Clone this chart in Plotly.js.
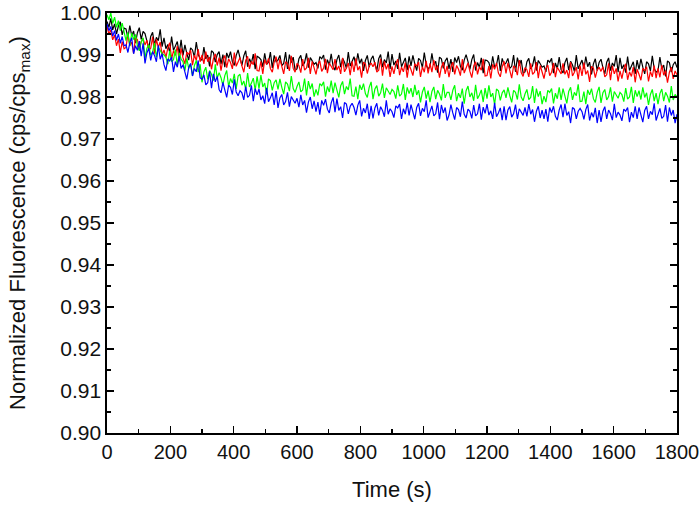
<!DOCTYPE html>
<html>
<head>
<meta charset="utf-8">
<script src="https://cdn.plot.ly/plotly-3.0.1.min.js"></script>
<style>html,body{margin:0;padding:0;background:#fff;}#chart{width:700px;height:509px;}</style>
</head>
<body>
<div id="chart"></div>
<script>
// Sampling of the traces (time in s): first sample and spacing
const T0 = 0;
const DT = 6;

const black = [
0.9980,0.9966,0.9987,0.9960,0.9974,0.9950,0.9969,0.9979,0.9948,0.9964,
0.9962,0.9941,0.9970,0.9946,0.9957,0.9928,0.9953,0.9965,0.9937,0.9956,
0.9951,0.9931,0.9916,0.9944,0.9954,0.9924,0.9942,0.9934,0.9961,0.9920,
0.9941,0.9915,0.9925,0.9906,0.9944,0.9911,0.9920,0.9932,0.9903,0.9936,
0.9899,0.9924,0.9904,0.9888,0.9917,0.9912,0.9895,0.9931,0.9901,0.9892,
0.9887,0.9919,0.9891,0.9900,0.9873,0.9910,0.9906,0.9883,0.9901,0.9908,
0.9878,0.9901,0.9871,0.9905,0.9893,0.9908,0.9884,0.9875,0.9899,0.9912,
0.9893,0.9875,0.9898,0.9910,0.9872,0.9891,0.9880,0.9902,0.9866,0.9897,
0.9894,0.9889,0.9872,0.9904,0.9878,0.9883,0.9907,0.9869,0.9899,0.9884,
0.9888,0.9899,0.9875,0.9880,0.9907,0.9867,0.9901,0.9882,0.9895,0.9864,
0.9867,0.9891,0.9899,0.9874,0.9882,0.9904,0.9870,0.9894,0.9886,0.9878,
0.9882,0.9868,0.9896,0.9891,0.9900,0.9865,0.9889,0.9876,0.9903,0.9873,
0.9864,0.9889,0.9900,0.9871,0.9892,0.9883,0.9868,0.9907,0.9874,0.9887,
0.9896,0.9875,0.9904,0.9880,0.9891,0.9862,0.9887,0.9899,0.9871,0.9890,
0.9898,0.9878,0.9863,0.9891,0.9901,0.9871,0.9889,0.9881,0.9908,0.9867,
0.9902,0.9876,0.9886,0.9867,0.9905,0.9872,0.9881,0.9893,0.9864,0.9897,
0.9874,0.9899,0.9879,0.9863,0.9892,0.9887,0.9870,0.9906,0.9876,0.9867,
0.9872,0.9904,0.9876,0.9885,0.9858,0.9895,0.9891,0.9868,0.9886,0.9893,
0.9867,0.9890,0.9860,0.9894,0.9882,0.9897,0.9873,0.9864,0.9888,0.9901,
0.9884,0.9866,0.9889,0.9901,0.9863,0.9882,0.9871,0.9893,0.9857,0.9888,
0.9887,0.9882,0.9865,0.9897,0.9871,0.9876,0.9900,0.9862,0.9892,0.9877,
0.9881,0.9892,0.9868,0.9873,0.9900,0.9860,0.9894,0.9875,0.9888,0.9857,
0.9860,0.9884,0.9892,0.9867,0.9875,0.9897,0.9863,0.9887,0.9879,0.9871,
0.9874,0.9860,0.9888,0.9883,0.9892,0.9857,0.9881,0.9868,0.9895,0.9865,
0.9857,0.9882,0.9893,0.9864,0.9885,0.9876,0.9861,0.9900,0.9867,0.9880,
0.9888,0.9867,0.9896,0.9872,0.9883,0.9854,0.9879,0.9891,0.9863,0.9882,
0.9890,0.9870,0.9855,0.9883,0.9893,0.9863,0.9881,0.9873,0.9900,0.9859,
0.9893,0.9867,0.9877,0.9858,0.9896,0.9863,0.9872,0.9884,0.9855,0.9888,
0.9866,0.9891,0.9871,0.9855,0.9884,0.9879,0.9862,0.9898,0.9868,0.9859,
0.9863,0.9895,0.9867,0.9876,0.9849,0.9886,0.9882,0.9859,0.9877,0.9884,
0.9870];

const red = [
0.9968,0.9950,0.9960,0.9936,0.9948,0.9922,0.9938,0.9905,0.9932,0.9915,
0.9918,0.9950,0.9922,0.9931,0.9904,0.9941,0.9937,0.9914,0.9932,0.9939,
0.9924,0.9935,0.9911,0.9916,0.9943,0.9903,0.9937,0.9918,0.9931,0.9900,
0.9912,0.9894,0.9917,0.9929,0.9891,0.9910,0.9899,0.9921,0.9885,0.9916,
0.9893,0.9879,0.9907,0.9902,0.9911,0.9876,0.9900,0.9887,0.9914,0.9884,
0.9900,0.9879,0.9908,0.9884,0.9895,0.9866,0.9891,0.9903,0.9875,0.9894,
0.9863,0.9888,0.9899,0.9870,0.9891,0.9882,0.9867,0.9906,0.9873,0.9886,
0.9894,0.9874,0.9859,0.9887,0.9897,0.9867,0.9885,0.9877,0.9904,0.9863,
0.9862,0.9885,0.9855,0.9889,0.9877,0.9892,0.9868,0.9859,0.9883,0.9896,
0.9866,0.9891,0.9871,0.9855,0.9884,0.9879,0.9862,0.9898,0.9868,0.9859,
0.9880,0.9875,0.9858,0.9890,0.9864,0.9869,0.9893,0.9855,0.9885,0.9870,
0.9854,0.9878,0.9886,0.9861,0.9869,0.9891,0.9857,0.9881,0.9873,0.9865,
0.9890,0.9864,0.9874,0.9855,0.9893,0.9860,0.9869,0.9881,0.9852,0.9885,
0.9860,0.9892,0.9864,0.9873,0.9846,0.9883,0.9879,0.9856,0.9874,0.9881,
0.9872,0.9883,0.9859,0.9864,0.9891,0.9851,0.9885,0.9866,0.9879,0.9848,
0.9873,0.9855,0.9878,0.9890,0.9852,0.9871,0.9860,0.9882,0.9846,0.9877,
0.9865,0.9851,0.9879,0.9874,0.9883,0.9848,0.9872,0.9859,0.9886,0.9856,
0.9880,0.9859,0.9888,0.9864,0.9875,0.9846,0.9871,0.9883,0.9855,0.9874,
0.9847,0.9872,0.9883,0.9854,0.9875,0.9866,0.9851,0.9890,0.9857,0.9870,
0.9881,0.9861,0.9846,0.9874,0.9884,0.9854,0.9872,0.9864,0.9891,0.9850,
0.9851,0.9874,0.9844,0.9878,0.9866,0.9881,0.9857,0.9848,0.9872,0.9885,
0.9856,0.9881,0.9861,0.9845,0.9874,0.9869,0.9852,0.9888,0.9858,0.9849,
0.9870,0.9865,0.9848,0.9880,0.9854,0.9859,0.9883,0.9845,0.9875,0.9860,
0.9844,0.9868,0.9876,0.9851,0.9859,0.9881,0.9847,0.9871,0.9863,0.9855,
0.9880,0.9854,0.9864,0.9845,0.9883,0.9850,0.9859,0.9871,0.9842,0.9875,
0.9850,0.9882,0.9854,0.9863,0.9836,0.9873,0.9869,0.9846,0.9864,0.9871,
0.9861,0.9872,0.9848,0.9853,0.9880,0.9840,0.9874,0.9855,0.9868,0.9837,
0.9862,0.9844,0.9867,0.9879,0.9841,0.9860,0.9849,0.9871,0.9835,0.9866,
0.9854,0.9840,0.9868,0.9863,0.9872,0.9837,0.9861,0.9848,0.9875,0.9845,
0.9868,0.9847,0.9876,0.9852,0.9863,0.9834,0.9859,0.9871,0.9843,0.9862,
0.9853];

const green = [
0.9996,0.9984,1.0000,0.9975,0.9990,0.9966,0.9982,0.9958,0.9976,0.9952,
0.9934,0.9954,0.9921,0.9952,0.9937,0.9949,0.9922,0.9910,0.9931,0.9941,
0.9892,0.9916,0.9924,0.9899,0.9907,0.9929,0.9895,0.9919,0.9911,0.9903,
0.9900,0.9895,0.9878,0.9910,0.9884,0.9889,0.9913,0.9875,0.9905,0.9890,
0.9884,0.9863,0.9892,0.9868,0.9879,0.9850,0.9875,0.9887,0.9859,0.9878,
0.9835,0.9860,0.9871,0.9842,0.9863,0.9854,0.9839,0.9878,0.9845,0.9858,
0.9846,0.9828,0.9851,0.9863,0.9825,0.9844,0.9833,0.9855,0.9819,0.9850,
0.9854,0.9828,0.9838,0.9819,0.9857,0.9824,0.9833,0.9845,0.9816,0.9849,
0.9820,0.9852,0.9824,0.9833,0.9806,0.9843,0.9839,0.9816,0.9834,0.9841,
0.9818,0.9843,0.9823,0.9807,0.9836,0.9831,0.9814,0.9850,0.9820,0.9811,
0.9825,0.9836,0.9812,0.9817,0.9844,0.9804,0.9838,0.9819,0.9832,0.9801,
0.9818,0.9804,0.9832,0.9827,0.9836,0.9801,0.9825,0.9812,0.9839,0.9809,
0.9834,0.9814,0.9799,0.9827,0.9837,0.9807,0.9825,0.9817,0.9844,0.9803,
0.9802,0.9825,0.9795,0.9829,0.9817,0.9832,0.9808,0.9799,0.9823,0.9836,
0.9795,0.9819,0.9827,0.9802,0.9810,0.9832,0.9798,0.9822,0.9814,0.9806,
0.9818,0.9813,0.9796,0.9828,0.9802,0.9807,0.9831,0.9793,0.9823,0.9808,
0.9821,0.9800,0.9829,0.9805,0.9816,0.9787,0.9812,0.9824,0.9796,0.9815,
0.9788,0.9813,0.9824,0.9795,0.9816,0.9807,0.9792,0.9831,0.9798,0.9811,
0.9811,0.9793,0.9816,0.9828,0.9790,0.9809,0.9798,0.9820,0.9784,0.9815,
0.9826,0.9800,0.9810,0.9791,0.9829,0.9796,0.9805,0.9817,0.9788,0.9821,
0.9796,0.9828,0.9800,0.9809,0.9782,0.9819,0.9815,0.9792,0.9810,0.9817,
0.9798,0.9823,0.9803,0.9787,0.9816,0.9811,0.9794,0.9830,0.9800,0.9791,
0.9807,0.9818,0.9794,0.9799,0.9826,0.9786,0.9820,0.9801,0.9814,0.9783,
0.9802,0.9788,0.9816,0.9811,0.9820,0.9785,0.9809,0.9796,0.9823,0.9793,
0.9820,0.9800,0.9785,0.9813,0.9823,0.9793,0.9811,0.9803,0.9830,0.9789,
0.9790,0.9813,0.9783,0.9817,0.9805,0.9820,0.9796,0.9787,0.9811,0.9824,
0.9786,0.9810,0.9818,0.9793,0.9801,0.9823,0.9789,0.9813,0.9805,0.9797,
0.9811,0.9806,0.9789,0.9821,0.9795,0.9800,0.9824,0.9786,0.9816,0.9801,
0.9815,0.9794,0.9823,0.9799,0.9810,0.9781,0.9806,0.9818,0.9790,0.9809,
0.9783,0.9808,0.9819,0.9790,0.9811,0.9802,0.9787,0.9826,0.9793,0.9806,
0.9800];

const blue = [
0.9974,0.9958,0.9968,0.9945,0.9958,0.9935,0.9950,0.9928,0.9944,0.9922,
0.9924,0.9906,0.9929,0.9941,0.9903,0.9922,0.9911,0.9933,0.9897,0.9928,
0.9880,0.9905,0.9916,0.9887,0.9908,0.9899,0.9884,0.9923,0.9890,0.9903,
0.9877,0.9863,0.9891,0.9886,0.9895,0.9860,0.9884,0.9871,0.9898,0.9868,
0.9877,0.9857,0.9842,0.9870,0.9880,0.9850,0.9868,0.9860,0.9887,0.9846,
0.9842,0.9853,0.9829,0.9834,0.9861,0.9821,0.9855,0.9836,0.9849,0.9818,
0.9810,0.9835,0.9815,0.9799,0.9828,0.9823,0.9806,0.9842,0.9812,0.9803,
0.9815,0.9810,0.9793,0.9825,0.9799,0.9804,0.9828,0.9790,0.9820,0.9805,
0.9819,0.9793,0.9803,0.9784,0.9822,0.9789,0.9798,0.9810,0.9781,0.9814,
0.9774,0.9798,0.9806,0.9781,0.9789,0.9811,0.9777,0.9801,0.9793,0.9785,
0.9797,0.9776,0.9805,0.9781,0.9792,0.9763,0.9788,0.9800,0.9772,0.9791,
0.9765,0.9788,0.9758,0.9792,0.9780,0.9795,0.9771,0.9762,0.9786,0.9799,
0.9764,0.9796,0.9768,0.9777,0.9750,0.9787,0.9783,0.9760,0.9778,0.9785,
0.9775,0.9757,0.9780,0.9792,0.9754,0.9773,0.9762,0.9784,0.9748,0.9779,
0.9749,0.9774,0.9785,0.9756,0.9777,0.9768,0.9753,0.9792,0.9759,0.9772,
0.9765,0.9751,0.9779,0.9774,0.9783,0.9748,0.9772,0.9759,0.9786,0.9756,
0.9782,0.9762,0.9747,0.9775,0.9785,0.9755,0.9773,0.9765,0.9792,0.9751,
0.9768,0.9779,0.9755,0.9760,0.9787,0.9747,0.9781,0.9762,0.9775,0.9744,
0.9757,0.9782,0.9762,0.9746,0.9775,0.9770,0.9753,0.9789,0.9759,0.9750,
0.9771,0.9766,0.9749,0.9781,0.9755,0.9760,0.9784,0.9746,0.9776,0.9761,
0.9783,0.9757,0.9767,0.9748,0.9786,0.9753,0.9762,0.9774,0.9745,0.9778,
0.9745,0.9769,0.9777,0.9752,0.9760,0.9782,0.9748,0.9772,0.9764,0.9756,
0.9775,0.9754,0.9783,0.9759,0.9770,0.9741,0.9766,0.9778,0.9750,0.9769,
0.9748,0.9771,0.9741,0.9775,0.9763,0.9778,0.9754,0.9745,0.9769,0.9782,
0.9752,0.9784,0.9756,0.9765,0.9738,0.9775,0.9771,0.9748,0.9766,0.9773,
0.9765,0.9747,0.9770,0.9782,0.9744,0.9763,0.9752,0.9774,0.9738,0.9769,
0.9741,0.9766,0.9777,0.9748,0.9769,0.9760,0.9745,0.9784,0.9751,0.9764,
0.9757,0.9743,0.9771,0.9766,0.9775,0.9740,0.9764,0.9751,0.9778,0.9748,
0.9775,0.9755,0.9740,0.9768,0.9778,0.9748,0.9766,0.9758,0.9785,0.9744,
0.9762,0.9773,0.9749,0.9754,0.9781,0.9741,0.9775,0.9756,0.9769,0.9738,
0.9759];

const seriesOrder = [
  {y: black, color: '#000000'},
  {y: red,   color: '#ff0000'},
  {y: green, color: '#00ff00'},
  {y: blue,  color: '#0000ff'}
];

const xTitle = 'Time (s)';
const yTitle = 'Normalized Fluorescence (cps/cps<sub>max</sub>)';

const traces = seriesOrder.map(s => ({
  type: 'scatter', mode: 'lines',
  x0: T0, dx: DT, y: s.y,
  line: {color: s.color, width: 1.2},
  hoverinfo: 'skip', showlegend: false
}));

const FONT = 'Liberation Sans, Arial, sans-serif';
const axisCommon = {
  showline: true, linecolor: '#000', linewidth: 1.6, mirror: 'allticks',
  ticks: 'inside', ticklen: 7, tickwidth: 1.5, tickcolor: '#000',
  showgrid: false, zeroline: false,
};

const layout = {
  width: 700, height: 509,
  margin: {l: 107, r: 23, t: 13, b: 76},
  paper_bgcolor: '#fff', plot_bgcolor: '#fff',
  font: {family: FONT, color: '#111'},
  xaxis: Object.assign({}, axisCommon, {
    range: [0, 1800], tick0: 0, dtick: 200,
    minor: {dtick: 100, ticks: 'inside', ticklen: 4, tickwidth: 1.2, tickcolor: '#000'},
    tickfont: {family: FONT, size: 20, color: '#111'},
    title: {text: xTitle, font: {family: FONT, size: 22, color: '#111'}, standoff: 20}
  }),
  yaxis: Object.assign({}, axisCommon, {
    range: [0.90, 1.00], tick0: 0.90, dtick: 0.01, tickformat: '.2f',
    minor: {dtick: 0.005, ticks: 'inside', ticklen: 4, tickwidth: 1.2, tickcolor: '#000'},
    tickfont: {family: FONT, size: 21, color: '#111'},
    title: {text: yTitle, font: {family: FONT, size: 22, color: '#111'}, standoff: 28}
  })
};

Plotly.newPlot('chart', traces, layout, {staticPlot: true, displayModeBar: false});
</script>
</body>
</html>
